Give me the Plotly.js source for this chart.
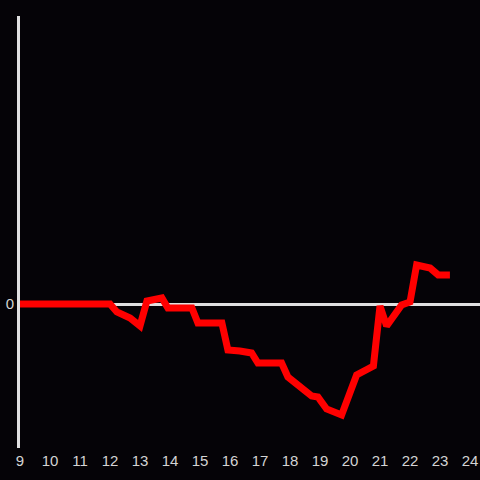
<!DOCTYPE html>
<html>
<head>
<meta charset="utf-8">
<script src="https://cdn.plot.ly/plotly-3.0.1.min.js"></script>
<style>html,body{margin:0;padding:0;background:#050307;}</style>
</head>
<body>
<div id="chart" style="width:480px;height:480px;"></div>
<script>
const hours = [9, 12.0, 12.23, 12.67, 13.0, 13.23, 13.73, 13.93, 14.73, 14.93, 15.73, 15.93, 16.33, 16.72, 16.93, 17.72, 17.93, 18.72, 18.93, 19.22, 19.72, 20.22, 20.78, 21.0, 21.22, 21.72, 22.0, 22.22, 22.67, 22.94, 23.33];
const values = [0, 0, -0.08, -0.14, -0.22, 0.03, 0.06, -0.04, -0.04, -0.19, -0.19, -0.46, -0.47, -0.49, -0.59, -0.59, -0.73, -0.92, -0.93, -1.05, -1.11, -0.71, -0.62, -0.02, -0.22, -0.01, 0.02, 0.39, 0.36, 0.29, 0.29];
const xTicks = [9,10,11,12,13,14,15,16,17,18,19,20,21,22,23,24];

Plotly.newPlot('chart', [{
  x: hours, y: values, type: 'scatter', mode: 'lines',
  line: {color: '#ff0000', width: 7}
}], {
  width: 480, height: 480,
  paper_bgcolor: '#050307', plot_bgcolor: '#050307',
  margin: {l: 20, r: 0, t: 16, b: 32},
  showlegend: false,
  font: {family: 'Liberation Sans, Arial, sans-serif', size: 15, color: '#d4d4d4'},
  xaxis: {range: [9, 24.333], tickvals: xTicks, ticktext: xTicks.map(String),
    showgrid: false, zeroline: false, showline: false, ticks: '', ticklabelstandoff: 2, fixedrange: true},
  yaxis: {range: [-1.44, 2.88], tickvals: [0], ticktext: ['0'],
    showgrid: false, zeroline: true, zerolinecolor: '#e0e0e0', zerolinewidth: 3,
    showline: true, linecolor: '#e0e0e0', linewidth: 3, ticks: '', ticklabelstandoff: 0, fixedrange: true}
}, {displayModeBar: false, staticPlot: true});
</script>
</body>
</html>
